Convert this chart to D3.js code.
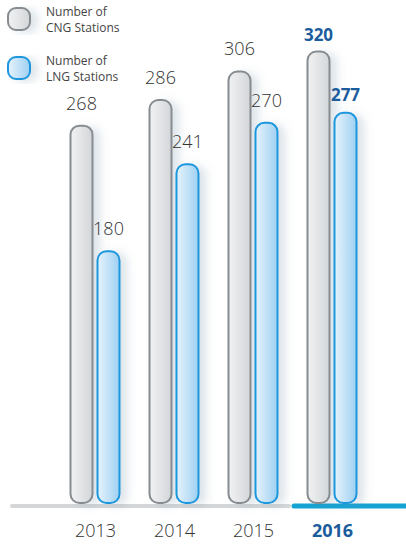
<!DOCTYPE html>
<html><head><meta charset="utf-8">
<script src="https://cdn.jsdelivr.net/npm/d3@7"></script>
<style>body{margin:0;background:#fff;}svg{display:block;font-family:"Open Sans","Liberation Sans",sans-serif;}</style>
</head><body>
<script>
const years = ["2013","2014","2015","2016"];
const cngValues = [268, 286, 306, 320];
const lngValues = [180, 241, 270, 277];
const legendLabels = [["Number of","CNG Stations"],["Number of","LNG Stations"]];

const W = 406, H = 544;
const svg = d3.select("body").append("svg").attr("width", W).attr("height", H);
const defs = svg.append("defs");

const gg = defs.append("linearGradient").attr("id","gGray").attr("x1","0").attr("x2","1").attr("y1","0").attr("y2","0");
gg.append("stop").attr("offset","0").attr("stop-color","#f1f2f3");
gg.append("stop").attr("offset","1").attr("stop-color","#d3d6d9");
const gb = defs.append("linearGradient").attr("id","gBlue").attr("x1","0").attr("x2","1").attr("y1","0").attr("y2","0");
gb.append("stop").attr("offset","0").attr("stop-color","#e6f3fc");
gb.append("stop").attr("offset","1").attr("stop-color","#9fd0f2");
const f = defs.append("filter").attr("id","sh").attr("x","-50%").attr("y","-10%").attr("width","250%").attr("height","130%");
f.append("feDropShadow").attr("dx",7).attr("dy",2).attr("stdDeviation",4).attr("flood-color","#6a8aa0").attr("flood-opacity",0.22);

const x = d3.scaleBand().domain(years).range([56, 372]).padding(0);
const y = d3.scaleLinear().domain([0, 320]).range([508, 51.5]);
const barBottom = 503;
const bw = 22;

// baseline
svg.append("line").attr("x1",12).attr("x2",289).attr("y1",506).attr("y2",506)
  .attr("stroke","#d4d6d8").attr("stroke-width",4).attr("stroke-linecap","round");
svg.append("line").attr("x1",294).attr("x2",406).attr("y1",506).attr("y2",506)
  .attr("stroke","#14a3d3").attr("stroke-width",5).attr("stroke-linecap","round");

const data = years.map((yr,i)=>({yr, cng:cngValues[i], lng:lngValues[i], last: i===years.length-1}));

const g = svg.selectAll("g.yr").data(data).join("g").attr("class","yr");
// CNG bars
g.append("rect")
  .attr("x", d => x(d.yr) + x.bandwidth()/2 - 25)
  .attr("y", d => y(d.cng))
  .attr("width", bw).attr("height", d => barBottom - y(d.cng))
  .attr("rx", 9).attr("ry", 9)
  .attr("fill","url(#gGray)").attr("stroke","#878c91").attr("stroke-width",2)
  .attr("filter","url(#sh)");
// LNG bars
g.append("rect")
  .attr("x", d => x(d.yr) + x.bandwidth()/2 + 2)
  .attr("y", d => y(d.lng))
  .attr("width", bw).attr("height", d => barBottom - y(d.lng))
  .attr("rx", 9).attr("ry", 9)
  .attr("fill","url(#gBlue)").attr("stroke","#1b97dd").attr("stroke-width",2)
  .attr("filter","url(#sh)");

// value labels
g.append("text")
  .attr("x", d => x(d.yr) + x.bandwidth()/2 - 25 + bw/2)
  .attr("y", d => y(d.cng) - (d.last ? 11 : 16))
  .attr("text-anchor","middle")
  .attr("font-size", d => d.last ? 17 : 18)
  .attr("font-weight", d => d.last ? 700 : 300)
  .attr("fill", d => d.last ? "#1a5c9c" : "#333")
  .text(d => d.cng);
g.append("text")
  .attr("x", d => x(d.yr) + x.bandwidth()/2 + 2 + bw/2)
  .attr("y", d => y(d.lng) - (d.last ? 12 : 16))
  .attr("text-anchor","middle")
  .attr("font-size", d => d.last ? 17 : 18)
  .attr("font-weight", d => d.last ? 700 : 300)
  .attr("fill", d => d.last ? "#1a5c9c" : "#333")
  .text(d => d.lng);

// x axis labels
g.append("text")
  .attr("x", d => x(d.yr) + x.bandwidth()/2)
  .attr("y", 537)
  .attr("text-anchor","middle")
  .attr("font-size", 18)
  .attr("font-weight", d => d.last ? 700 : 300)
  .attr("fill", d => d.last ? "#1a5c9c" : "#333")
  .text(d => d.yr);

// legend
const leg = svg.selectAll("g.leg").data(legendLabels).join("g").attr("class","leg")
  .attr("transform",(d,i)=>`translate(0,${i*49})`);
leg.append("rect").attr("x",8).attr("y",8).attr("width",22).attr("height",22).attr("rx",8)
  .attr("fill",(d,i)=> i===0 ? "url(#gGray)" : "url(#gBlue)")
  .attr("stroke",(d,i)=> i===0 ? "#878c91" : "#1b97dd").attr("stroke-width",2)
  .attr("filter","url(#sh)");
leg.append("text").attr("x",46).attr("y",16).attr("font-size",12).attr("fill","#444").text(d=>d[0]);
leg.append("text").attr("x",46).attr("y",32).attr("font-size",12).attr("fill","#444").text(d=>d[1]);
</script>
</body></html>
